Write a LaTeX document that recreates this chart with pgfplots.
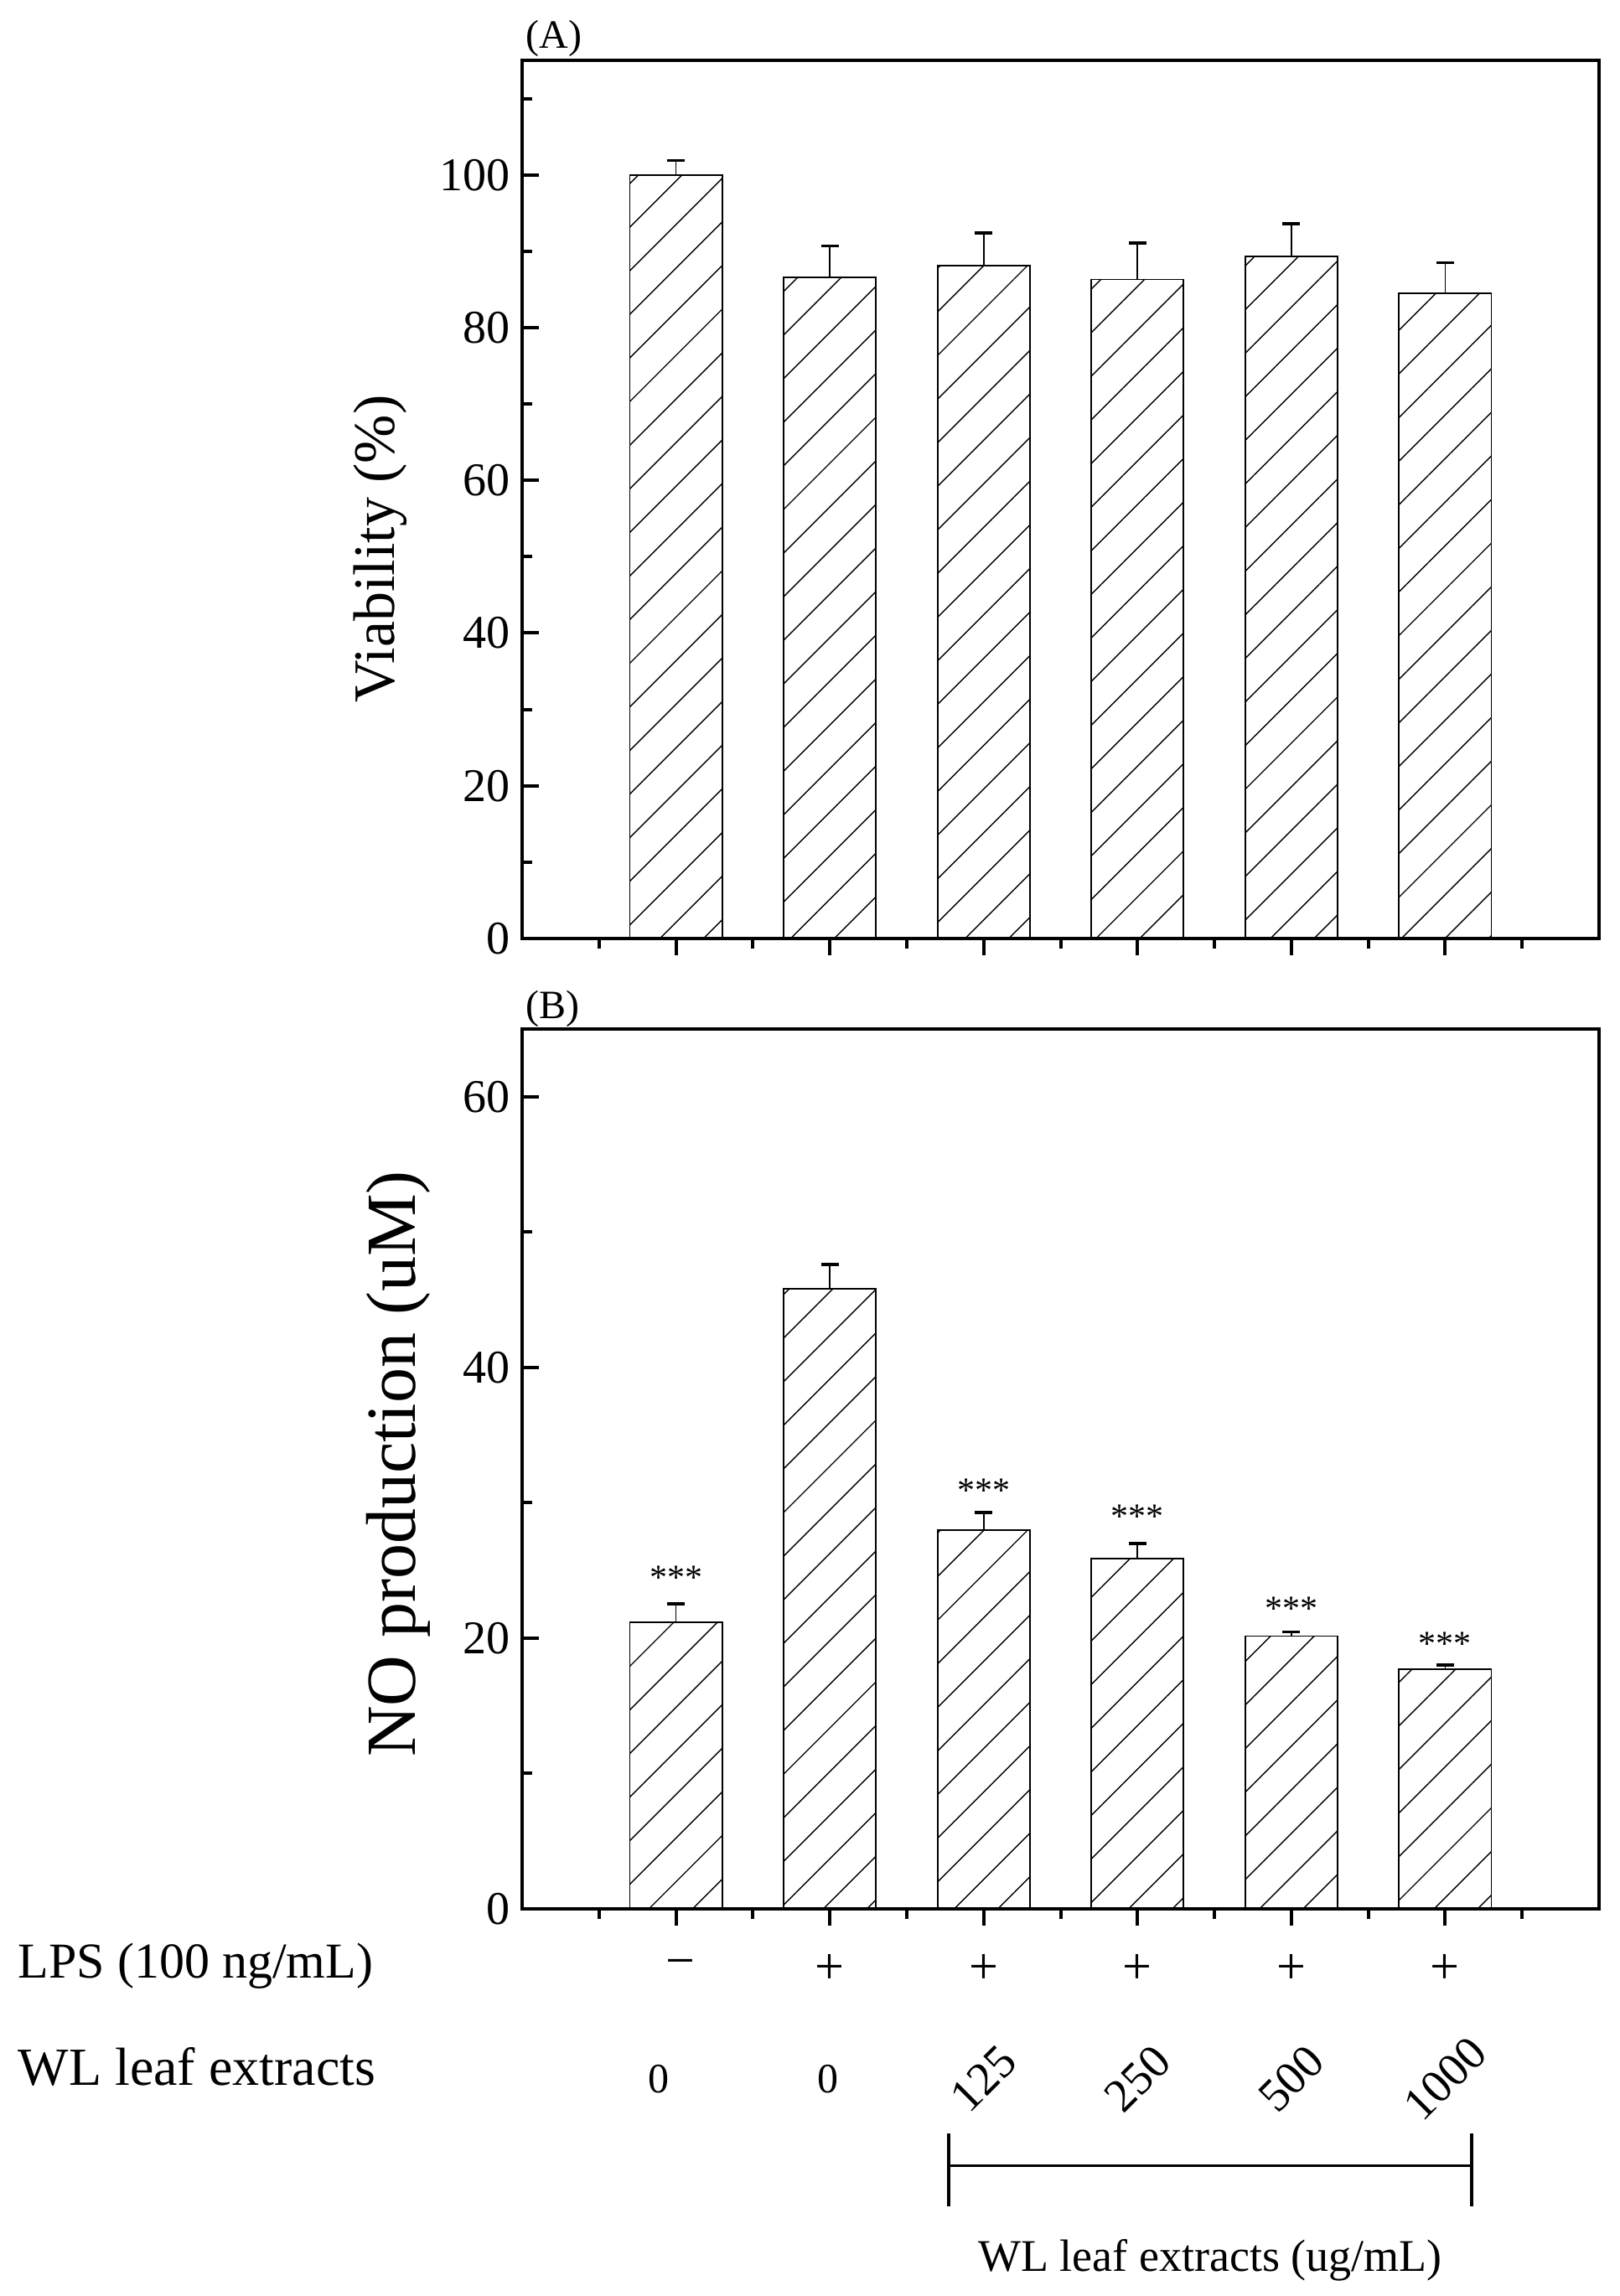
\documentclass[border=0pt]{standalone}
\usepackage{fontspec}
\setmainfont{Liberation Serif}
\usepackage{pgfplots}
\pgfplotsset{compat=1.18}
\usetikzlibrary{patterns.meta}

\pgfplotsset{
  panel/.style={
    scale only axis,
    width=321.25pt,
    xmin=0, xmax=7,
    axis line style={line width=1pt},
    tick align=inside,
    xtick pos=bottom, ytick pos=left,
    xtick={1,...,6}, xticklabels={},
    minor xtick={0.5,1.5,...,6.5},
    major tick length=5pt, minor tick length=3pt,
    every tick/.style={black, line width=1pt},
    tick label style={font=\fontsize{14}{16}\selectfont},
    /pgf/number format/assume math mode=true,
    ybar, bar width=0.6,
    clip=false,
  },
  hatched/.style={
    draw=black, line width=0.45pt,
    pattern={Lines[angle=45,distance=9.2pt,line width=0.35pt]},
    error bars/y dir=plus,
    error bars/y explicit,
    error bars/error mark=-,
    error bars/error bar style={line width=0.45pt, black},
    error bars/error mark options={rotate=90, line width=0.9pt, mark size=2.6pt, black},
  },
}
\tikzset{stars/.style={font=\fontsize{10.5}{12}\selectfont, inner sep=0pt}}

\begin{document}
\begin{tikzpicture}
\useasboundingbox (0pt,0pt) rectangle (483pt,-685pt);

% (A) viability
\begin{axis}[panel, at={(155.75pt,-280pt)}, anchor=south west, height=262pt,
  ymin=0, ymax=115, ytick={0,20,...,100}, minor ytick={10,30,...,110}]
\addplot[hatched] coordinates {
  (1,100.0) +- (0,1.9)
  (2,86.6)  +- (0,4.1)
  (3,88.1)  +- (0,4.3)
  (4,86.3)  +- (0,4.8)
  (5,89.3)  +- (0,4.3)
  (6,84.5)  +- (0,4.0)
};
\end{axis}

% (B) NO production
\begin{axis}[panel, at={(155.75pt,-569.5pt)}, anchor=south west, height=262.5pt,
  ymin=0, ymax=65, ytick={0,20,40,60}, minor ytick={10,30,50}]
\addplot[hatched] coordinates {
  (1,21.15) +- (0,1.4)
  (2,45.8)  +- (0,1.8)
  (3,28.0)  +- (0,1.3)
  (4,25.9)  +- (0,1.1)
  (5,20.15) +- (0,0.3)
  (6,17.7)  +- (0,0.3)
};
\node[stars] at (axis cs:1,24.5) {***};
\node[stars] at (axis cs:3,30.9) {***};
\node[stars] at (axis cs:4,29.0) {***};
\node[stars] at (axis cs:5,22.2) {***};
\node[stars] at (axis cs:6,19.6) {***};

% treatment rows
\begin{scope}[font=\fontsize{15.5}{18}\selectfont]
\node at (axis cs:1.03,-4.45) {−};
\node at (axis cs:2,-4.45) {+};
\node at (axis cs:3,-4.45) {+};
\node at (axis cs:4,-4.45) {+};
\node at (axis cs:5,-4.45) {+};
\node at (axis cs:6,-4.45) {+};
\end{scope}
\node[font=\fontsize{12.5}{14}\selectfont] at (axis cs:0.89,-12.6) {0};
\node[font=\fontsize{12.5}{14}\selectfont] at (axis cs:1.99,-12.6) {0};
\begin{scope}[font=\fontsize{14}{16}\selectfont]
\node[rotate=45, inner sep=0pt] at (axis cs:3,-12.55) {125};
\node[rotate=45, inner sep=0pt] at (axis cs:4,-12.55) {250};
\node[rotate=45, inner sep=0pt] at (axis cs:5,-12.55) {500};
\node[rotate=45, inner sep=0pt] at (axis cs:6,-12.55) {1000};
\end{scope}
\draw[line width=1pt] (axis cs:2.77,-16.6) -- (axis cs:2.77,-21.95);
\draw[line width=1pt] (axis cs:6.17,-16.6) -- (axis cs:6.17,-21.95);
\draw[line width=0.6pt] (axis cs:2.77,-18.98) -- (axis cs:6.17,-18.98);
\end{axis}

% panel letters and axis titles
\node[anchor=base west, font=\fontsize{12}{14}\selectfont, inner sep=0pt] at (156.75pt,-14.5pt) {(A)};
\node[anchor=base west, font=\fontsize{12}{14}\selectfont, inner sep=0pt] at (156.75pt,-303.75pt) {(B)};
\node[rotate=90, font=\fontsize{17.5}{20}\selectfont] at (113.5pt,-163.75pt) {Viability (\%)};
\node[rotate=90, font=\fontsize{21}{24}\selectfont] at (118.75pt,-436.75pt) {NO production (uM)};
\node[anchor=base west, font=\fontsize{15}{18}\selectfont, inner sep=0pt] at (5.25pt,-590pt) {LPS (100 ng/mL)};
\node[anchor=base west, font=\fontsize{16}{19}\selectfont, inner sep=0pt] at (5.25pt,-622pt) {WL leaf extracts};
\node[anchor=base, font=\fontsize{13.5}{16}\selectfont, inner sep=0pt] at (361pt,-677.5pt) {WL leaf extracts (ug/mL)};
\end{tikzpicture}
\end{document}
